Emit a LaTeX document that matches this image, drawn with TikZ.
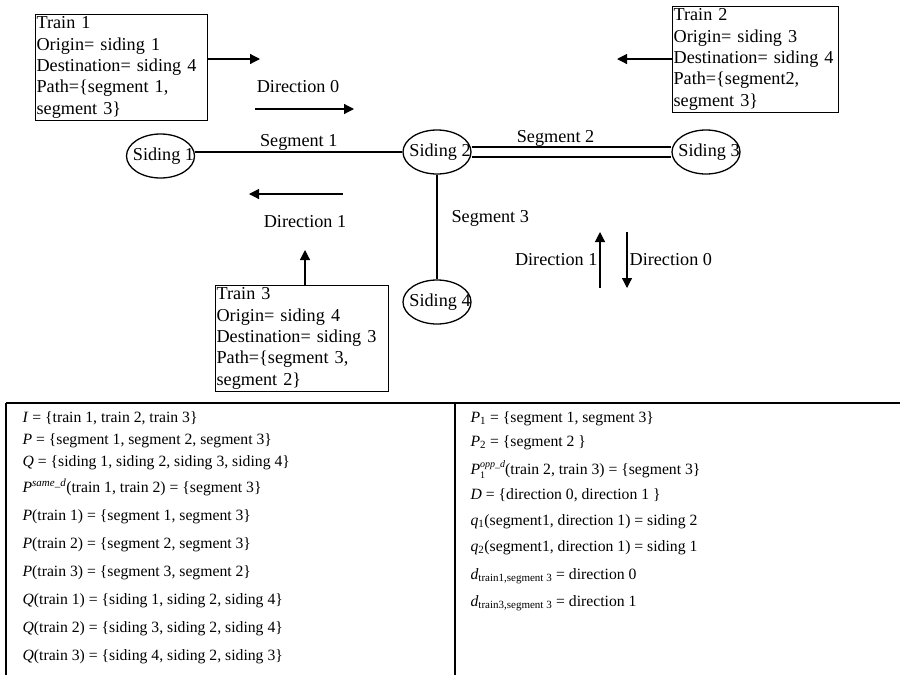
\documentclass[tikz,border=0pt]{standalone}
\usepackage{fontspec}
\setmainfont{Liberation Serif}
\usepackage{tikz}
\usetikzlibrary{arrows.meta,shapes.geometric}
\tikzstyle{ar} = [-{Triangle[length=10pt,width=10pt]}]
\tikzstyle{trainbox} = [draw, anchor=north west, align=left, inner xsep=1pt, inner ysep=2pt, font=\fontsize{18.2pt}{21.4pt}\selectfont]
\tikzstyle{siding} = [draw, ellipse, line width=1.3pt, minimum width=68pt, minimum height=44pt, inner sep=0pt]
\tikzstyle{lbl} = [font=\fontsize{18.2pt}{21.4pt}\selectfont]
\tikzstyle{tabtext} = [anchor=north west, align=left, inner sep=0pt, font=\fontsize{15.7pt}{22pt}\selectfont]
\newcommand{\mv}[1]{\textit{#1}}

\begin{document}
\begin{tikzpicture}[yscale=-1, line width=1.2pt]
			\useasboundingbox (0pt,0pt) rectangle (901pt,675pt);
			\node[trainbox, text width=170pt] (t1) at (35pt,14pt) {Train 1\\Origin= siding 1\\Destination= siding 4\\Path=\{segment 1,\\segment 3\}};
			\node[trainbox, text width=164pt] (t2) at (672pt,6pt) {Train 2\\Origin= siding 3\\Destination= siding 4\\Path=\{segment2,\\segment 3\}};
			\node[trainbox, text width=171pt] (t3) at (215pt,285pt) {Train 3\\Origin= siding 4\\Destination= siding 3\\Path=\{segment 3,\\segment 2\}};
			\node[siding] (s1) at (160.5pt,156pt) {};
			\node[lbl, xshift=3pt] (s1t) at (s1) {Siding 1};
			\node[siding] (s2) at (437pt,152pt) {};
			\node[lbl, xshift=3pt] (s2t) at (s2) {Siding 2};
			\node[siding] (s3) at (706pt,152pt) {};
			\node[lbl, xshift=3pt] (s3t) at (s3) {Siding 3};
			\node[siding] (s4) at (437pt,302pt) {};
			\node[lbl, xshift=3pt] (s4t) at (s4) {Siding 4};
			\draw (s1.east |- s2.west) -- node[lbl, above, inner sep=1pt] (seg1) {Segment 1} (s2.west);
			\draw[double, double distance=8.8pt] (s2.east) -- node[lbl, above, inner sep=5pt, pos=0.42] (seg2) {Segment 2} (s3.west);
			\draw (s2.south) -- node[lbl, right=14pt, pos=0.42, inner sep=0pt] (seg3) {Segment 3} (s4.north);
			\coordinate (r1) at (260pt,59pt);
			\draw[ar] (t1.east |- r1) -- (r1);
			\coordinate (l2) at (617pt,59pt);
			\draw[ar] (t2.west |- l2) -- (l2);
			\coordinate (u3) at (305pt,250pt);
			\draw[ar] (t3.north -| u3) -- (u3);
			\node[lbl] (d0) at (298pt,87pt) {Direction 0};
			\coordinate (d0a) at (255pt,109pt);
			\coordinate (d0b) at (354pt,109pt);
			\draw[ar] (d0a) -- (d0b);
			\node[lbl] (d1) at (305pt,222pt) {Direction 1};
			\coordinate (d1a) at (343pt,194pt);
			\coordinate (d1b) at (249pt,194pt);
			\draw[ar] (d1a) -- (d1b);
			\coordinate (v1a) at (600pt,288pt);
			\coordinate (v1b) at (600pt,232pt);
			\draw[ar] (v1a) -- node[lbl, left, inner sep=2pt] (dv1) {Direction 1} (v1b);
			\coordinate (v0a) at (627pt,232pt);
			\coordinate (v0b) at (627pt,288pt);
			\draw[ar] (v0a) -- node[lbl, right, inner sep=2pt] (dv0) {Direction 0} (v0b);
			\draw (6pt,403pt) -- (900pt,403pt);
			\draw (6pt,403pt) -- (6pt,675pt);
			\draw (455pt,403pt) -- (455pt,675pt);
			\node[tabtext] (sets) at (22pt,410.5pt) {\mv{I} = \{train 1, train 2, train 3\}\\
				\mv{P} = \{segment 1, segment 2, segment 3\}\\
				\mv{Q} = \{siding 1, siding 2, siding 3, siding 4\}\\[4pt]
				\mv{P}\textsuperscript{\mv{same\_d}}(train 1, train 2) = \{segment 3\}\\[6pt]
				\mv{P}(train 1) = \{segment 1, segment 3\}\\[6pt]
				\mv{P}(train 2) = \{segment 2, segment 3\}\\[6pt]
				\mv{P}(train 3) = \{segment 3, segment 2\}\\[6pt]
				\mv{Q}(train 1) = \{siding 1, siding 2, siding 4\}\\[6pt]
				\mv{Q}(train 2) = \{siding 3, siding 2, siding 4\}\\[6pt]
				\mv{Q}(train 3) = \{siding 4, siding 2, siding 3\}};
			\node[tabtext] (maps) at (470pt,410.5pt) {\mv{P}\textsubscript{1} = \{segment 1, segment 3\}\\[2pt]
				\mv{P}\textsubscript{2} = \{segment 2 \}\\[6pt]
				\mv{P}\makebox[0pt][l]{\raisebox{-4pt}{\fontsize{10pt}{10pt}\selectfont 1}}\raisebox{6.5pt}{\fontsize{10pt}{10pt}\selectfont\mv{opp\_d}}(train 2, train 3) = \{segment 3\}\\[3pt]
				\mv{D} = \{direction 0, direction 1 \}\\[4pt]
				\mv{q}\textsubscript{1}(segment1, direction 1) = siding 2\\[4pt]
				\mv{q}\textsubscript{2}(segment1, direction 1) = siding 1\\[6pt]
				\mv{d}\textsubscript{train1,segment 3} = direction 0\\[5pt]
				\mv{d}\textsubscript{train3,segment 3} = direction 1};
\end{tikzpicture}
\end{document}
